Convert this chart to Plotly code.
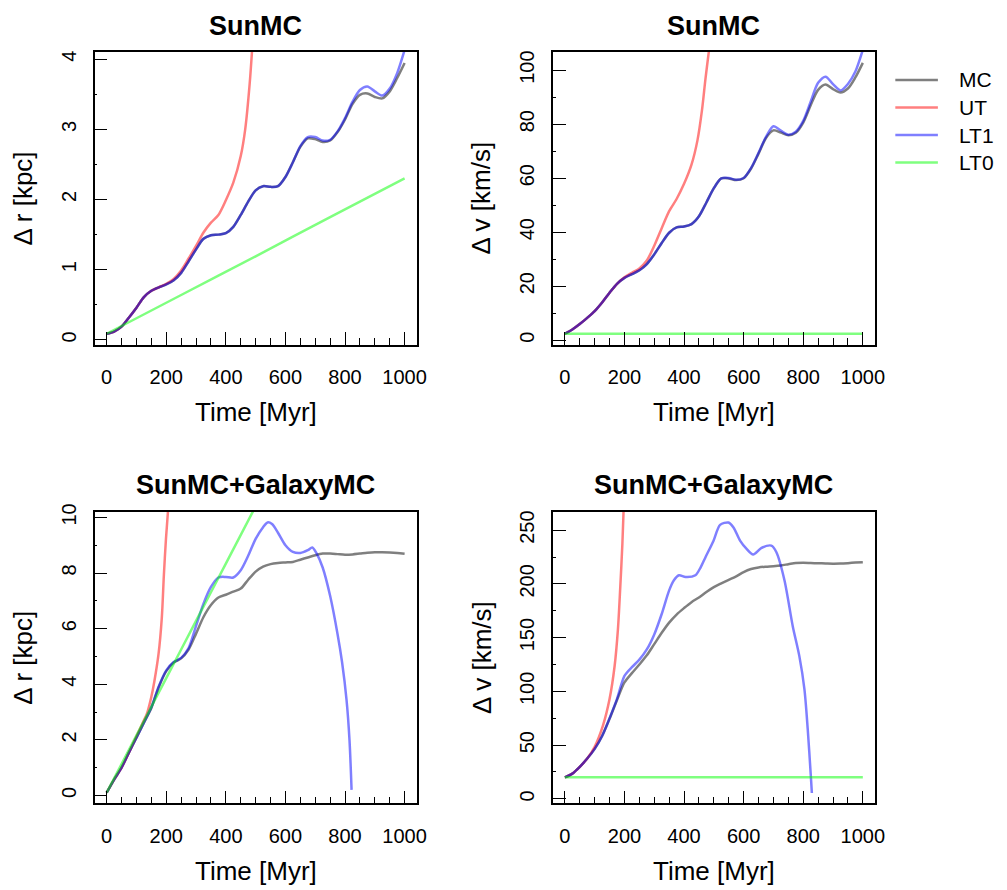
import plotly.graph_objects as go

# ---------------- data ----------------
series_names = ["MC", "UT", "LT1", "LT0"]
panel_titles = ["SunMC", "SunMC", "SunMC+GalaxyMC", "SunMC+GalaxyMC"]
x_title = "Time [Myr]"
y_titles = ["\u0394 r [kpc]", "\u0394 v [km/s]", "\u0394 r [kpc]", "\u0394 v [km/s]"]

t_grid = [0, 25, 50, 75, 100, 125, 150, 175, 200, 225, 250, 275, 300, 325, 350,
          375, 400, 425, 450, 475, 500, 525, 550, 575, 600, 625, 650, 675, 700,
          725, 750, 775, 800, 825, 850, 875, 900, 925, 950, 975, 1000]

# --- SunMC, delta r ---
tl_mc = [0.088, 0.12, 0.19, 0.32, 0.46, 0.61, 0.70, 0.75, 0.79, 0.85, 0.955, 1.12,
         1.29, 1.44, 1.49, 1.50, 1.52, 1.61, 1.78, 1.97, 2.13, 2.19, 2.18, 2.19, 2.32,
         2.53, 2.75, 2.87, 2.86, 2.82, 2.84, 2.96, 3.14, 3.36, 3.49, 3.51, 3.46, 3.44,
         3.54, 3.73, 3.945]
tl_lt1 = [0.088, 0.12, 0.19, 0.32, 0.46, 0.61, 0.70, 0.75, 0.79, 0.85, 0.955, 1.12,
          1.29, 1.44, 1.49, 1.50, 1.52, 1.61, 1.78, 1.97, 2.13, 2.19, 2.18, 2.19, 2.32,
          2.53, 2.76, 2.89, 2.89, 2.84, 2.85, 2.97, 3.16, 3.39, 3.56, 3.61, 3.54, 3.48,
          3.58, 3.80, 4.13]
tl_ut_t = [0, 25, 50, 75, 100, 125, 150, 175, 200, 225, 250, 275, 300, 325, 350, 375,
           400, 425, 450, 465, 480, 490]
tl_ut = [0.088, 0.12, 0.19, 0.32, 0.46, 0.61, 0.70, 0.75, 0.80, 0.87, 0.99, 1.16, 1.34,
         1.53, 1.67, 1.78, 1.99, 2.24, 2.62, 3.0, 3.65, 4.25]
tl_lt0_t = [0, 250, 500, 750, 1000]
tl_lt0 = [0.088, 0.64, 1.19, 1.75, 2.30]

# --- SunMC, delta v ---
tr_mc = [2.4, 4.0, 6.0, 8.3, 10.8, 14.0, 17.6, 20.9, 23.1, 24.5, 25.9, 28.2, 31.8,
         36.0, 39.8, 41.8, 42.1, 43.0, 45.9, 51.0, 56.3, 59.9, 59.9, 59.3, 60.0, 63.6,
         69.1, 74.9, 77.7, 76.9, 75.9, 76.8, 80.6, 87.0, 92.7, 94.7, 93.0, 91.7, 93.2,
         97.3, 102.7]
tr_lt1 = [2.4, 4.0, 6.0, 8.3, 10.8, 14.0, 17.6, 20.9, 23.1, 24.5, 25.9, 28.2, 31.8,
          36.0, 39.8, 41.8, 42.1, 43.0, 45.9, 51.0, 56.3, 59.9, 60.1, 59.4, 60.1, 63.8,
          69.4, 75.3, 79.2, 77.6, 76.1, 77.2, 81.2, 88.3, 95.3, 97.6, 94.8, 92.5, 94.9,
          99.5, 107.5]
tr_ut_t = [0, 25, 50, 75, 100, 125, 150, 175, 200, 225, 250, 275, 300, 325, 350, 375,
           400, 425, 445, 460, 472, 483, 490]
tr_ut = [2.4, 4.0, 6.0, 8.3, 10.8, 14.0, 17.6, 20.9, 23.3, 25.0, 26.6, 29.5, 35.0,
         41.5, 47.8, 52.3, 57.9, 65.0, 74.0, 85.0, 96.9, 106.7, 113.0]
tr_lt0_t = [0, 250, 500, 750, 1000]
tr_lt0 = [2.4, 2.4, 2.4, 2.4, 2.4]

# --- SunMC+GalaxyMC, delta r ---
bl_mc = [0.10, 0.57, 1.00, 1.55, 2.08, 2.62, 3.15, 3.90, 4.47, 4.78, 4.93, 5.25, 5.82,
         6.42, 6.85, 7.12, 7.22, 7.33, 7.44, 7.76, 8.05, 8.23, 8.32, 8.36, 8.38, 8.40,
         8.48, 8.56, 8.64, 8.70, 8.70, 8.68, 8.66, 8.67, 8.70, 8.73, 8.75, 8.75, 8.74,
         8.72, 8.69]
bl_lt1_t = [0, 25, 50, 75, 100, 125, 150, 175, 200, 225, 250, 275, 300, 325, 350, 375,
            400, 425, 450, 475, 500, 525, 540, 555, 575, 600, 625, 650, 675, 690, 705,
            725, 750, 775, 790, 805, 815, 822]
bl_lt1 = [0.10, 0.57, 1.00, 1.55, 2.08, 2.62, 3.17, 3.93, 4.50, 4.80, 4.95, 5.30, 6.10,
          6.90, 7.50, 7.84, 7.86, 7.84, 8.10, 8.62, 9.23, 9.65, 9.82, 9.76, 9.45, 9.00,
          8.76, 8.72, 8.82, 8.92, 8.70, 8.20, 7.18, 5.80, 4.80, 3.45, 2.00, 0.20]
bl_ut_t = [0, 25, 50, 75, 100, 125, 135, 150, 160, 174, 185, 192, 199, 207]
bl_ut = [0.10, 0.57, 1.00, 1.55, 2.12, 2.70, 2.94, 3.55, 4.10, 5.08, 6.38, 7.92, 9.23,
         10.40]
bl_lt0_t = [0, 100, 200, 300, 400, 500]
bl_lt0 = [0.10, 2.16, 4.22, 6.28, 8.34, 10.40]

# --- SunMC+GalaxyMC, delta v ---
br_mc = [19.9, 23.5, 29.8, 37.5, 46.5, 58.5, 74.5, 92.0, 108.3, 117.0, 125.0, 133.5,
         144.0, 154.5, 164.0, 171.5, 177.5, 183.0, 187.4, 192.5, 197.0, 200.5, 203.8,
         207.0, 211.0, 213.8, 215.3, 216.0, 216.5, 217.2, 218.3, 219.4, 219.6, 219.4,
         219.2, 219.0, 218.8, 218.9, 219.3, 219.8, 220.2]
br_lt1_t = [0, 25, 50, 75, 100, 125, 150, 175, 200, 225, 250, 275, 300, 325, 350, 366,
            383, 405, 438, 455, 472, 499, 521, 549, 566, 588, 610, 632, 660, 693, 710,
            737, 765, 787, 804, 815, 826, 829]
br_lt1 = [19.9, 23.5, 29.8, 37.5, 46.5, 58.5, 75.0, 93.0, 114.4, 122.5, 129.5, 139.0,
          153.0, 172.0, 194.0, 203.4, 208.0, 206.4, 208.0, 215.0, 224.8, 240.2, 254.9,
          257.1, 252.5, 240.2, 232.5, 227.3, 233.4, 235.6, 229.4, 203.4, 160.4, 132.8,
          102.1, 65.3, 19.3, 5.5]
br_ut_t = [0, 25, 50, 75, 100, 128, 150, 167, 178, 186, 193, 197, 200]
br_ut = [19.9, 23.5, 29.8, 37.5, 48.5, 68.4, 92.9, 123.6, 157.4, 197.2, 237.1, 267.8,
         285.0]
br_lt0_t = [0, 250, 500, 750, 1000]
br_lt0 = [20.0, 20.0, 20.0, 20.0, 20.0]

x_range = [-40, 1040]
y_ranges = [[-0.066, 4.10], [-1.6, 106.7], [-0.285, 10.2], [-4.2, 267.0]]
y_dticks = [1, 20, 2, 50]

# ---------------- styling ----------------
FONT = "Liberation Sans, Arial, Helvetica, sans-serif"
colors = {"MC": "rgba(0,0,0,0.5)", "UT": "rgba(255,0,0,0.5)",
          "LT1": "rgba(0,0,255,0.5)", "LT0": "rgba(0,255,0,0.5)"}
W, H = 1007, 890
box_x = [(95.7, 420.7), (558.5, 883.5)]
box_y = [(43.5, 339.0), (508.0, 802.5)]

panels = [
    dict(mc=(t_grid, tl_mc), ut=(tl_ut_t, tl_ut), lt1=(t_grid, tl_lt1), lt0=(tl_lt0_t, tl_lt0)),
    dict(mc=(t_grid, tr_mc), ut=(tr_ut_t, tr_ut), lt1=(t_grid, tr_lt1), lt0=(tr_lt0_t, tr_lt0)),
    dict(mc=(t_grid, bl_mc), ut=(bl_ut_t, bl_ut), lt1=(bl_lt1_t, bl_lt1), lt0=(bl_lt0_t, bl_lt0)),
    dict(mc=(t_grid, br_mc), ut=(br_ut_t, br_ut), lt1=(br_lt1_t, br_lt1), lt0=(br_lt0_t, br_lt0)),
]

fig = go.Figure()
annotations = []
shapes = []
layout_axes = {}

for i, p in enumerate(panels):
    row, col = divmod(i, 2)
    xs = "" if i == 0 else str(i + 1)
    xref, yref = "x" + xs, "y" + xs
    for name, key in zip(series_names, ["mc", "ut", "lt1", "lt0"]):
        tx, vy = p[key]
        fig.add_trace(go.Scatter(
            x=tx, y=vy, mode="lines", name=name, showlegend=False,
            line=dict(color=colors[name], width=2.5, shape="spline", smoothing=0.8),
            xaxis=xref, yaxis=yref, hoverinfo="skip"))

    x0, x1 = box_x[col]
    ytop, ybot = box_y[row]
    xdom = [x0 / W, x1 / W]
    ydom = [1 - ybot / H, 1 - ytop / H]
    common = dict(showline=True, mirror=True, linecolor="black", linewidth=1.5,
                  ticks="inside", tickwidth=1, tickcolor="black", showgrid=False,
                  zeroline=False, tickfont=dict(family=FONT, size=20, color="black"))
    layout_axes["xaxis" + xs] = dict(
        common, domain=xdom, range=x_range, anchor=yref, tick0=0, dtick=200,
        ticklen=13, ticklabelstandoff=14,
        minor=dict(ticks="inside", ticklen=7, tick0=0, dtick=50, tickwidth=1,
                   tickcolor="black", showgrid=False))
    layout_axes["yaxis" + xs] = dict(
        common, domain=ydom, range=y_ranges[i], anchor=xref, tick0=0,
        dtick=y_dticks[i], ticklen=13, tickangle=-90, ticklabelstandoff=9,
        minor=dict(ticks="inside", ticklen=3, tick0=0, dtick=y_dticks[i] / 2,
                   tickwidth=1, tickcolor="black", showgrid=False))

    cx = (x0 + x1) / 2 / W
    cy = 1 - (ytop + ybot) / 2 / H
    title_y = 16.7 if row == 0 else 481.2
    annotations.append(dict(text="<b>%s</b>" % panel_titles[i], x=cx, y=1 - title_y / H,
                            xref="paper", yref="paper", showarrow=False,
                            xanchor="center", yanchor="middle",
                            font=dict(family=FONT, size=27, color="black")))
    annotations.append(dict(text=x_title, x=cx, y=1 - (ybot + 68.3) / H,
                            xref="paper", yref="paper", showarrow=False,
                            xanchor="center", yanchor="middle",
                            font=dict(family=FONT, size=26, color="black")))
    annotations.append(dict(text=y_titles[i], x=(x0 - 72.4) / W, y=cy,
                            xref="paper", yref="paper", showarrow=False,
                            textangle=-90, xanchor="center", yanchor="middle",
                            font=dict(family=FONT, size=26, color="black")))

# legend (drawn as key swatches + labels to the right of the top-right panel)
leg_x0, leg_x1, leg_tx = 904.3, 947.3, 967.0
leg_rows = [71.7, 99.5, 127.3, 155.0]
for name, ly in zip(series_names, leg_rows):
    shapes.append(dict(type="line", xref="paper", yref="paper",
                       x0=leg_x0 / W, x1=leg_x1 / W, y0=1 - ly / H, y1=1 - ly / H,
                       line=dict(color=colors[name], width=2.5)))
    annotations.append(dict(text=name, x=leg_tx / W, y=1 - ly / H, xref="paper",
                            yref="paper", showarrow=False, xanchor="left",
                            yanchor="middle",
                            font=dict(family=FONT, size=21, color="black")))

fig.update_layout(
    width=W, height=H, margin=dict(l=0, r=0, t=0, b=0),
    paper_bgcolor="white", plot_bgcolor="white",
    font=dict(family=FONT, color="black"),
    annotations=annotations, shapes=shapes, showlegend=False,
    **layout_axes)

fig.write_html("out.html", config={"displayModeBar": False},
               post_script="document.body.style.margin='0px';"
                           "document.body.style.overflow='hidden';")
